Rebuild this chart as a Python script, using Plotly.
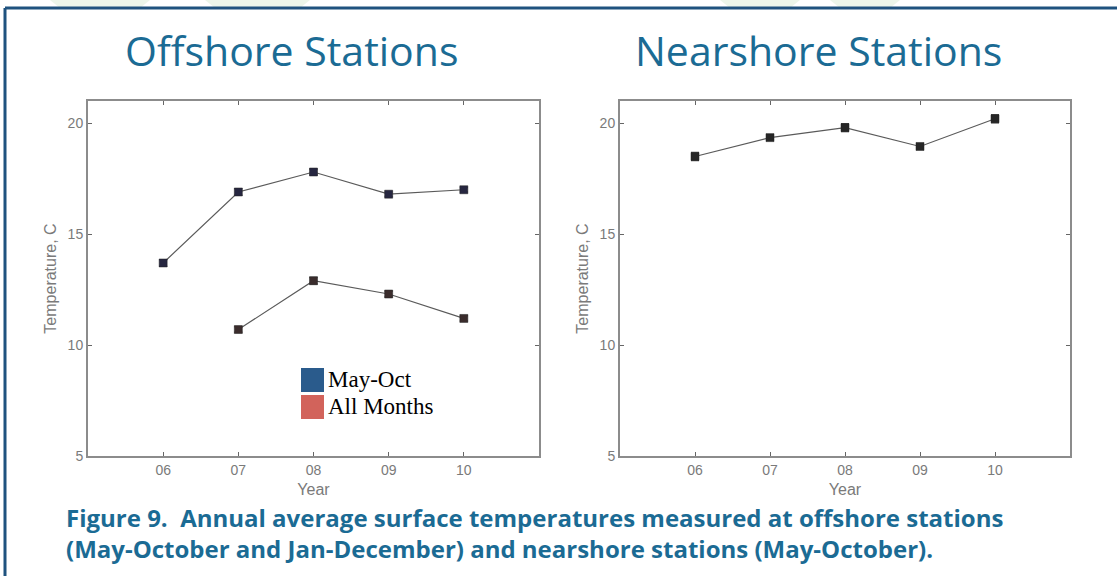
import plotly.graph_objects as go

# ---- data ----
years = [6, 7, 8, 9, 10]
year_labels = ["06", "07", "08", "09", "10"]
offshore_may_oct = [13.7, 16.9, 17.8, 16.8, 17.0]
offshore_may_oct_err = [0.15, 0.15, 0.12, 0.1, 0.1]
offshore_all_years = [7, 8, 9, 10]
offshore_all_months = [10.7, 12.9, 12.3, 11.2]
offshore_all_err = [0.12, 0.15, 0.12, 0.12]
nearshore_may_oct = [18.5, 19.35, 19.8, 18.95, 20.2]
nearshore_err = [0.18, 0.12, 0.18, 0.12, 0.18]
ytick_vals = [5, 10, 15, 20]
legend_labels = ["May-Oct", "All Months"]
legend_colors = ["#2a5b8c", "#d2635b"]
titles = ["Offshore Stations", "Nearshore Stations"]
caption_lines = ["Figure 9.  Annual average surface temperatures measured at offshore stations",
                 "(May-October and Jan-December) and nearshore stations (May-October)."]

W, H = 1117, 576
def px_x(v): return v / W
def px_y(v): return 1 - v / H

fig = go.Figure()

def add_series(x, y, err, xa, ya, mcolor):
    fig.add_trace(go.Scatter(
        x=x, y=y, mode="lines+markers", xaxis=xa, yaxis=ya,
        line=dict(color="#5a5a5a", width=1.2),
        marker=dict(symbol="square", size=8, color=mcolor, line=dict(color="#222", width=0.5)),
        error_y=dict(type="data", array=err, visible=True, color="#555", thickness=1.5, width=4),
        showlegend=False,
    ))

add_series(years, offshore_may_oct, offshore_may_oct_err, "x", "y", "#262640")
add_series(offshore_all_years, offshore_all_months, offshore_all_err, "x", "y", "#3a2c2c")
add_series(years, nearshore_may_oct, nearshore_err, "x2", "y2", "#262626")

axis_common = dict(
    showgrid=False, zeroline=False, showline=True, linecolor="#8c8c8c", linewidth=2,
    mirror="ticks", ticks="inside", ticklen=4, tickcolor="#666", tickwidth=1, automargin=False,
    tickfont=dict(family="Liberation Sans, Arial", size=14, color="#7a7a7a"),
)
title_font = dict(family="Liberation Sans, Arial", size=16, color="#7a7a7a")
dom_y = [px_y(456), px_y(101)]
fig.update_layout(
    width=W, height=H, margin=dict(l=0, r=0, t=0, b=0, autoexpand=False),
    paper_bgcolor="white", plot_bgcolor="white",
    xaxis=dict(domain=[px_x(88), px_x(539)], range=[5, 11], tickvals=years, ticktext=year_labels,
               anchor="y", title=dict(text="Year", standoff=7, font=title_font), **axis_common),
    yaxis=dict(domain=dom_y, range=[5, 21], tickvals=ytick_vals, anchor="x",
               title=dict(text="Temperature, C", standoff=7, font=title_font), **axis_common),
    xaxis2=dict(domain=[px_x(620), px_x(1070)], range=[5, 11], tickvals=years, ticktext=year_labels,
                anchor="y2", title=dict(text="Year", standoff=7, font=title_font), **axis_common),
    yaxis2=dict(domain=dom_y, range=[5, 21], tickvals=ytick_vals, anchor="x2",
                title=dict(text="Temperature, C", standoff=7, font=title_font), **axis_common),
)

shapes = []
# faint green decorations at the top
for x0, x1, x2, x3 in [(50, 150, 140, 60), (205, 310, 300, 215), (720, 800, 790, 730), (830, 900, 890, 840)]:
    shapes.append(dict(type="path", xref="paper", yref="paper",
                       path=f"M {px_x(x0)},{px_y(0)} L {px_x(x1)},{px_y(0)} L {px_x(x2)},{px_y(8)} L {px_x(x3)},{px_y(8)} Z",
                       fillcolor="#ecf5ea", line=dict(width=0), layer="below"))
# frame border
shapes.append(dict(type="line", xref="paper", yref="paper", x0=px_x(5), x1=1, y0=px_y(8), y1=px_y(8),
                   line=dict(color="#1f527f", width=3)))
shapes.append(dict(type="line", xref="paper", yref="paper", x0=px_x(5), x1=px_x(5), y0=px_y(8), y1=0,
                   line=dict(color="#1f527f", width=3)))
# legend squares
for i, c in enumerate(legend_colors):
    top = 368 + i * 27
    shapes.append(dict(type="rect", xref="paper", yref="paper",
                       x0=px_x(301), x1=px_x(324), y0=px_y(top + 24), y1=px_y(top),
                       fillcolor=c, line=dict(width=0)))
fig.update_layout(shapes=shapes)

ann = []
for t, cx in zip(titles, [291, 818]):
    ann.append(dict(text=t, x=px_x(cx), y=px_y(50), xref="paper", yref="paper", showarrow=False,
                    xanchor="center", yanchor="middle",
                    font=dict(family="Open Sans", size=41, color="#1b6b94")))
for i, t in enumerate(legend_labels):
    ann.append(dict(text=t, x=px_x(326), y=px_y(379 + i * 27), xref="paper", yref="paper", showarrow=False,
                    xanchor="left", yanchor="middle",
                    font=dict(family="Liberation Serif, DejaVu Serif", size=23, color="black")))
ann.append(dict(text="<b>" + "<br>".join(caption_lines) + "</b>", x=px_x(64), y=px_y(533),
                xref="paper", yref="paper", showarrow=False, xanchor="left", yanchor="middle", align="left",
                font=dict(family="Open Sans", size=24, color="#1b6b94")))
fig.update_layout(annotations=ann)

fig.write_html("out.html", config={"displayModeBar": False},
               post_script="document.body.style.margin='0';")
